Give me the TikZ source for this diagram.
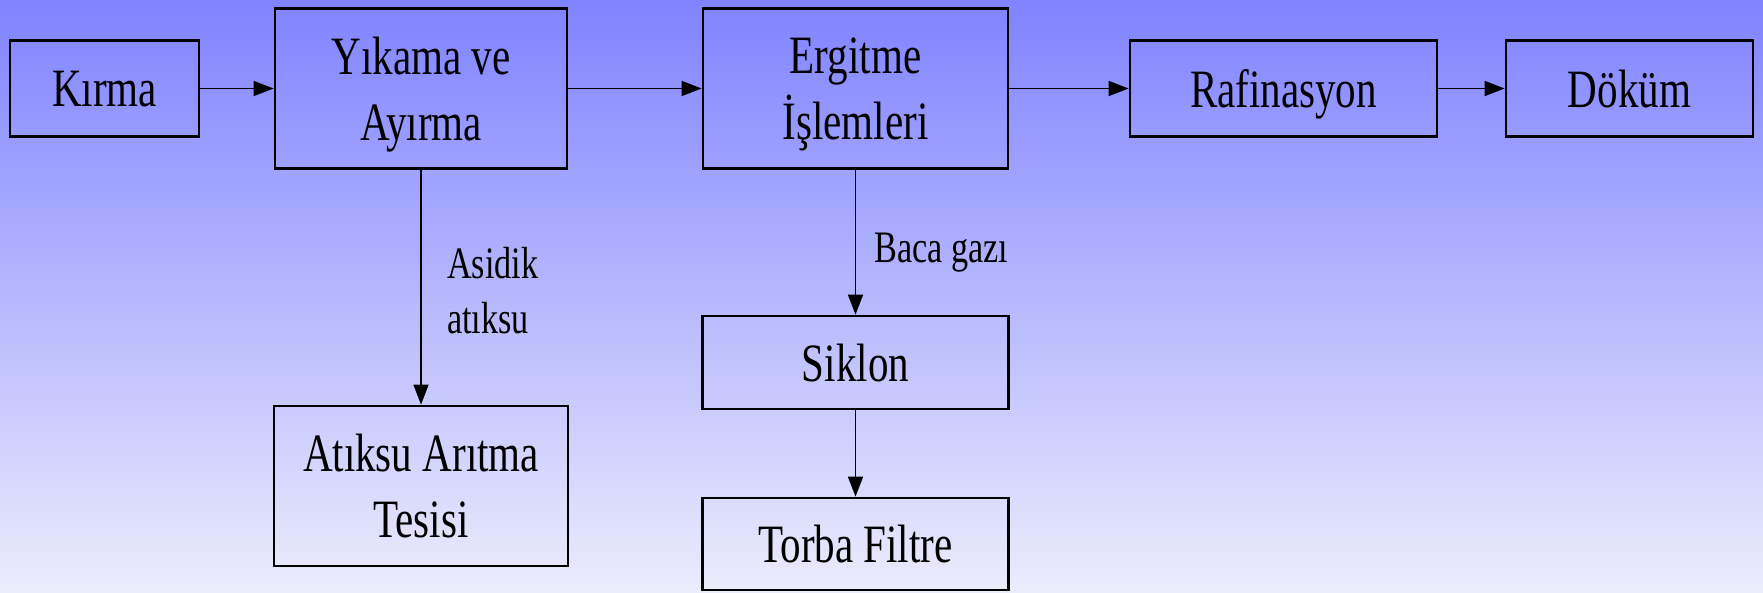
\documentclass[tikz,border=0pt]{standalone}
\usepackage{fontspec}
\setmainfont{Liberation Serif}[FakeStretch=0.76]
\usetikzlibrary{arrows.meta}
\definecolor{bgtop}{RGB}{127,131,255}
\definecolor{bgbot}{RGB}{236,236,252}
\newcommand\nd[1]{\raisebox{0pt}[\height][0pt]{#1}}
\tikzset{
  procbox/.style={draw=black, line width=2.7pt, inner sep=0pt, align=center,
    font=\fontsize{54}{66}\selectfont},
  flowlabel/.style={inner sep=0pt, align=left, font=\fontsize{45}{55}\selectfont},
  flow/.style={line width=1.5pt, draw=black, -{Triangle[length=20pt,width=15pt]}}
}
\begin{document}
\begin{tikzpicture}[x=1pt,y=-1pt]
\shade[top color=bgtop, bottom color=bgbot] (0,0) rectangle (1763,592);
\useasboundingbox (0,0) rectangle (1763,592);
\node[procbox, minimum width=189pt, minimum height=96pt] (kirma) at (104.5,88.5) {\nd{Kırma}};
\node[procbox, minimum width=292pt, minimum height=160pt] (yik) at (421,88.5) {Yıkama ve\\\nd{Ayırma}};
\node[procbox, minimum width=305pt, minimum height=160pt] (erg) at (855.5,88.5) {Ergitme\\\nd{İşlemleri}};
\node[procbox, minimum width=307pt, minimum height=96pt] (raf) at (1283.5,88.5) {\nd{Rafinasyon}};
\node[procbox, minimum width=247pt, minimum height=96pt] (dok) at (1629.5,88.5) {\nd{Döküm}};
\node[procbox, minimum width=294pt, minimum height=160pt] (atik) at (421,486) {Atıksu Arıtma\\\nd{Tesisi}};
\node[procbox, minimum width=306pt, minimum height=93pt] (sik) at (855.5,362.5) {\nd{Siklon}};
\node[procbox, minimum width=306pt, minimum height=92pt] (torba) at (855.5,544) {\nd{Torba Filtre}};
\draw[flow] (kirma.east) -- (yik.west);
\draw[flow] (yik.east) -- (erg.west);
\draw[flow] (erg.east) -- (raf.west);
\draw[flow] (raf.east) -- (dok.west);
\draw[flow] (yik.south) -- (atik.north);
\draw[flow] (erg.south) -- (sik.north);
\draw[flow] (sik.south) -- (torba.north);
\node[flowlabel, anchor=base west] (asidik) at (447,333) {Asidik\\atıksu};
\node[flowlabel, anchor=base west] (baca) at (874,262) {Baca gazı};
\end{tikzpicture}
\end{document}
